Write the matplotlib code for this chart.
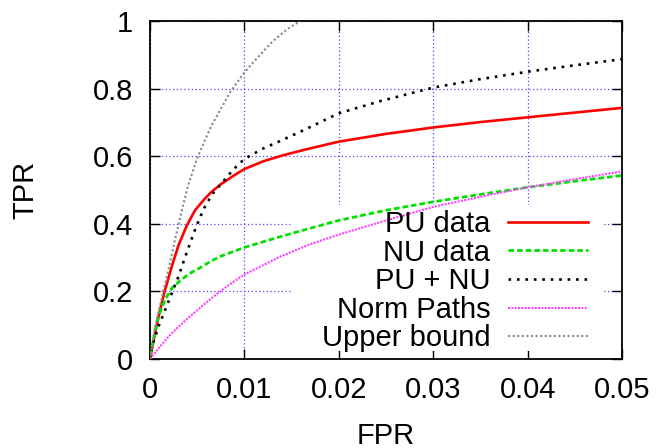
import numpy as np
import matplotlib
matplotlib.use('Agg')
from matplotlib import pyplot as plt
from matplotlib.patches import Rectangle
from matplotlib.ticker import FormatStrFormatter

plt.rcParams['font.family'] = ['Liberation Sans', 'DejaVu Sans']

# PU data
pu_fpr = [0, 0.00053, 0.00106, 0.00159, 0.0023, 0.003, 0.0039, 0.00477, 0.0058, 0.0065,
          0.0075, 0.009, 0.01, 0.012, 0.014, 0.0165, 0.02, 0.025, 0.03, 0.035, 0.04,
          0.045, 0.05]
pu_tpr = [0, 0.076, 0.145, 0.204, 0.273, 0.335, 0.395, 0.44, 0.474, 0.494,
          0.517, 0.545, 0.562, 0.585, 0.602, 0.62, 0.643, 0.666, 0.685, 0.701, 0.715,
          0.729, 0.743]

# NU data
nu_fpr = [0, 0.00035, 0.00088, 0.00159, 0.0023, 0.0032, 0.0042, 0.0053, 0.0065, 0.0074,
          0.01, 0.0138, 0.017, 0.02, 0.025, 0.03, 0.035, 0.04, 0.045, 0.05]
nu_tpr = [0.01, 0.056, 0.125, 0.175, 0.209, 0.232, 0.253, 0.27, 0.29, 0.303,
          0.33, 0.362, 0.387, 0.41, 0.44, 0.465, 0.487, 0.508, 0.526, 0.543]

# PU + NU
both_fpr = [0, 0.0002, 0.0009, 0.0016, 0.0023, 0.003, 0.0037, 0.0048, 0.0057, 0.0066,
            0.0076, 0.0088, 0.01, 0.012, 0.0138, 0.0165, 0.02, 0.0244, 0.03, 0.035,
            0.04, 0.045, 0.05]
both_tpr = [0, 0.036, 0.096, 0.145, 0.194, 0.243, 0.3, 0.385, 0.445, 0.488,
            0.52, 0.56, 0.592, 0.623, 0.645, 0.68, 0.727, 0.763, 0.803, 0.828,
            0.85, 0.869, 0.887]

# Norm Paths
norm_fpr = [0, 0.001, 0.002, 0.003, 0.0042, 0.006, 0.0072, 0.0085, 0.01, 0.0138,
            0.017, 0.02, 0.025, 0.03, 0.035, 0.04, 0.045, 0.05]
norm_tpr = [0, 0.035, 0.067, 0.095, 0.125, 0.168, 0.195, 0.222, 0.25, 0.303,
            0.34, 0.368, 0.41, 0.45, 0.48, 0.508, 0.532, 0.555]

# Upper bound
ub_fpr = [0, 0.0005, 0.00124, 0.002, 0.0027, 0.0033, 0.004, 0.005, 0.0065, 0.0085,
          0.01, 0.0115, 0.013, 0.0145, 0.0159]
ub_tpr = [0, 0.09, 0.18, 0.27, 0.36, 0.43, 0.51, 0.595, 0.69, 0.79,
          0.848, 0.895, 0.94, 0.975, 1.0]

xticks = [0, 0.01, 0.02, 0.03, 0.04, 0.05]
yticks = [0, 0.2, 0.4, 0.6, 0.8, 1]

fig = plt.figure(figsize=(6.57, 4.48), dpi=100)
ax = fig.add_axes([150 / 657, 89 / 448, 472 / 657, 338 / 448])

ax.plot(pu_fpr, pu_tpr, color='#ff0000', lw=1.9, ls='-', label='PU data', zorder=3)
ax.plot(nu_fpr, nu_tpr, color='#00e000', lw=2.0, ls=(0, (2.0, 1.1)), label='NU data', zorder=3)
ax.plot(both_fpr, both_tpr, color='black', lw=1.9, ls=(0, (1, 2.2)), label='PU + NU', zorder=3)
ax.plot(norm_fpr, norm_tpr, color='#ff40ff', lw=1.5, ls=(0, (1, 0.6)), label='Norm Paths', zorder=3)
ax.plot(ub_fpr, ub_tpr, color='#888888', lw=1.5, ls=(0, (1, 1.2)), label='Upper bound', zorder=3)

ax.set_xlim(0, 0.05)
ax.set_ylim(0, 1)
ax.set_xticks(xticks)
ax.set_yticks(yticks)
ax.xaxis.set_major_formatter(FormatStrFormatter('%g'))
ax.yaxis.set_major_formatter(FormatStrFormatter('%g'))
ax.tick_params(direction='in', length=7, width=1, top=True, right=True,
               labelsize=21, pad=12)
ax.grid(True, color='#4848ff', ls=(0, (1, 2)), lw=0.9)

# key area blanks the grid like gnuplot does
ax.add_patch(Rectangle((0.0152, 0.025), 0.0328, 0.43, facecolor='white',
                       edgecolor='none', zorder=1.6))

for s in ax.spines.values():
    s.set_linewidth(1.3)

ax.set_xlabel('FPR', fontsize=21)
ax.set_ylabel('TPR', fontsize=21)
ax.xaxis.set_label_coords(0.5, -0.185)
ax.yaxis.set_label_coords(-0.235, 0.5)

ax.legend(loc='upper right', bbox_to_anchor=(588 / 657, 238 / 448),
          bbox_transform=fig.transFigure, frameon=False, markerfirst=False,
          fontsize=21, handlelength=2.75, handletextpad=0.6,
          labelspacing=0.02, borderpad=0, borderaxespad=0)

fig.savefig('out.png', dpi=100)
